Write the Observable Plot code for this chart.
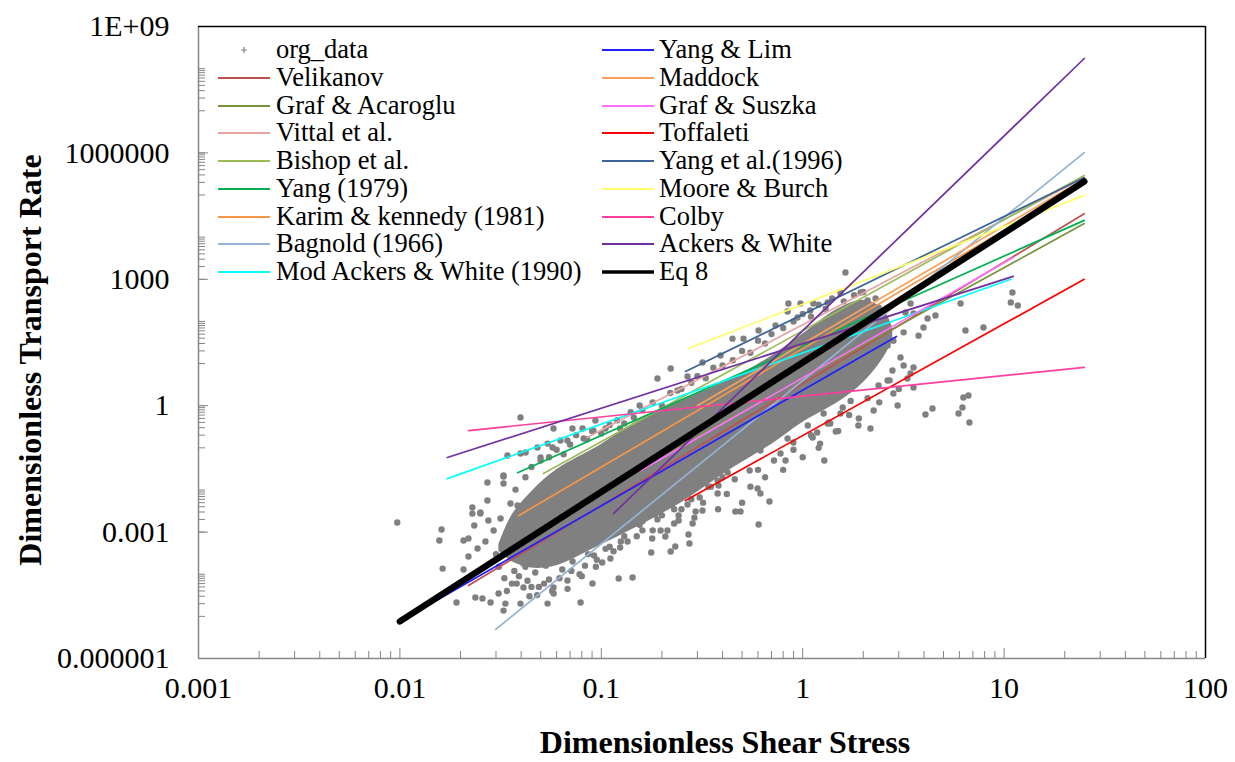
<!DOCTYPE html>
<html><head><meta charset="utf-8">
<script src="https://cdn.jsdelivr.net/npm/d3@7"></script>
<script src="https://cdn.jsdelivr.net/npm/@observablehq/plot@0.6"></script>
<style>
body{margin:0;background:#fff;}
#wrap{position:relative;width:1235px;height:762px;font-family:"Liberation Serif","Times New Roman","DejaVu Serif",serif;overflow:hidden}
.lg{position:absolute;font-size:26.5px;line-height:28px;white-space:nowrap;color:#000;font-family:"Liberation Serif","Times New Roman","DejaVu Serif",serif}
.ttl{position:absolute;font-weight:bold;font-size:32px;white-space:nowrap;color:#000;font-family:"Liberation Serif","Times New Roman","DejaVu Serif",serif}
</style></head><body><div id="wrap"></div>
<script>
// ---- axis ticks & labels ----
const xMajor = [0.001, 0.01, 0.1, 1, 10, 100];
const xLabels = ["0.001", "0.01", "0.1", "1", "10", "100"];
const yMajor = [1e-6, 1e-3, 1, 1e3, 1e6, 1e9];
const yLabels = ["0.000001", "0.001", "1", "1000", "1000000", "1E+09"];
const yMinorDecades = [-5, -3, -1, 1, 3, 5, 7];

// ---- observed data (org_data) ----
const orgX = [0.0097,0.0161,0.0157,0.0163,0.0191,0.0207,0.0219,0.0229,0.0251,0.0272,0.0272,0.0234,0.0219,0.0207,0.0243,0.0266,0.0275,0.0292,0.0327,0.0327,0.0375,0.0384,0.0316,0.0237,0.0257,0.0282,0.0309,0.0334,0.0327,0.0397,0.0411,0.0541,0.0579,0.0679,0.0789,0.0904,0.101,0.122,0.143,0.177,0.124,0.111,0.179,
0.0397,0.0579,0.0719,0.0807,0.0935,0.155,0.190,0.221,0.0342,0.0327,0.0229,0.0251,0.0354,0.0397,0.0421,0.0482,0.0541,0.0499,0.0573,0.0627,0.0679,0.0817,0.0914,0.105,0.124,0.145,0.190,0.239,
1.63,0.849,0.975,1.13,0.268,0.318,0.391,0.448,0.508,0.604,0.733,0.841,0.942,1.09,1.33,1.54,1.94,2.10,2.38,2.58,2.82,
1.89,2.17,2.38,2.64,2.82,3.31,2.96,3.55,2.25,1.73,1.54,1.33,1.22,0.899,0.776,0.617,4.07,4.41,5.94,6.21,6.73,0.822,1.28,0.545,0.597,0.617,0.684,0.463,0.491,0.604,0.284,0.271,0.274,0.233,0.221,0.213,0.268,0.294,0.318,0.378,0.382,0.308,0.242,0.242,0.197,0.208,1.46,1.12,1.18,0.841,1.58,1.37,1.27,1.06,0.804,0.692,0.617,0.532,0.424,0.378,0.348,0.301,0.247,0.213,0.208,
6.08,11.0,10.8,11.7,6.43,7.90,4.56,4.17,3.55,3.98,3.76,3.17,3.06,3.17,2.79,3.43,3.55,6.28,6.65,2.64,3.24,3.43,
0.045,0.052,0.062,0.071,0.083,0.095,0.115,0.135,0.16,0.19,0.23,0.28,0.34,0.40,0.048,0.058,0.068,0.08,0.092,0.11,0.13,0.155,0.185,0.22,0.26,0.31,0.36,0.042,0.05,0.039,0.036,0.044,
0.030,0.031,0.033,0.034,0.036,0.037,0.038,0.040,0.041,0.043,0.044,0.046,0.047,0.049,0.051,0.053,0.055,0.057,0.059,0.061,0.064,0.066,0.069,0.072,0.075,0.078,0.082,0.086,0.09,0.094,0.098,0.105,0.11,0.118,0.125,0.133,0.14,0.15,0.16,0.17,0.18,0.2,0.21,0.23,0.25,0.27,0.29,0.32,0.35,0.38,0.42,0.46,0.5,0.55,0.6,0.65,0.72,0.8,0.9,1.0,1.1,1.2,1.35,1.5,1.7,1.9,2.1,2.4,2.7,3.0,
0.042,0.045,0.05,0.055,0.06,0.065,0.07,0.075,0.085,0.09,0.1,0.11,0.12,0.13,0.14,0.16,0.18,0.2,0.22,0.25,0.28,0.3,0.33,0.36,0.4,0.45,0.5,0.55,0.6,0.65,0.7,0.8,0.9,1.0,1.1,1.2,1.3,1.4,1.6,1.8,2.0,2.3];
const orgY = [0.00169,0.00115,0.000631,0.000136,2.13e-5,0.000631,0.000703,0.00275,0.00275,0.0150,0.00561,0.00143,0.000263,0.000129,0.000407,0.000597,0.00188,0.00109,0.0142,0.0208,0.0102,0.00427,0.00210,2.8e-5,2.65e-5,2.13e-5,3.48e-5,2.01e-5,1.37e-5,2.01e-5,4.83e-5,2.01e-5,4.83e-5,7.08e-5,2.13e-5,6.01e-5,0.00019,7.91e-5,8.34e-5,0.000327,0.00043,0.000236,0.000703,
0.524,0.287,0.287,0.287,0.445,1.01,4.42,7.62,0.0656,0.022,0.00383,0.00291,0.00476,0.0733,0.0773,0.102,0.126,0.0589,0.102,0.149,0.149,0.166,0.258,0.287,0.287,0.524,0.585,2.29,
1450,266,266,266,4.92,10.6,15.5,39,39,61,80,172,124,182,281,485,485,313,214,89,35,
0.338,0.287,3.01,3.95,1.95,4.42,1.01,8.05,0.767,1.3,0.652,0.378,0.126,0.134,0.0733,0.0863,0.617,0.857,0.652,0.906,0.398,0.05,0.05,0.0289,0.0108,0.00822,0.00531,0.00308,0.00308,0.00151,0.0016,0.000875,0.000535,0.000454,0.000346,0.00109,0.00451,0.00308,0.00325,0.00822,0.0127,0.00661,0.00247,0.00188,0.00109,0.000785,0.244,0.176,0.231,0.166,0.906,0.378,0.652,0.338,0.287,0.445,0.134,0.126,0.0259,0.0167,0.038,0.034,0.0197,0.00561,0.0167,
266,485,281,239,61,72,138,117,154,72,46,55,13.9,9.0,6.84,5.81,2.70,1.56,1.74,27,163,266,
5e-5,6e-5,8e-5,1.2e-4,1.6e-4,2.2e-4,3.5e-4,6e-4,1.1e-3,2e-3,3.5e-3,6e-3,0.012,0.02,3.2e-5,3.5e-5,4.5e-5,9e-5,2.8e-4,4.5e-4,8e-4,1.5e-3,2.6e-3,4.5e-3,8e-3,0.016,0.03,1.5e-4,2.8e-4,9e-5,6e-5,3.8e-4,
3e-4,1.5e-4,8e-5,4e-5,2.5e-4,1.2e-4,6e-5,3.5e-4,1.8e-4,7e-5,3e-5,2.2e-4,1.1e-4,5e-5,3.2e-4,1.6e-4,7.5e-5,4e-5,2.6e-4,5.5e-4,1.3e-4,3.5e-4,8e-4,2e-4,5e-4,1e-4,1.1e-3,3e-4,6.5e-4,1.5e-4,1.4e-3,4e-4,9e-4,2.2e-3,6e-4,1.3e-3,3e-3,8e-4,1.8e-3,4e-3,1.1e-3,2.5e-3,6e-3,1.6e-3,3.5e-3,8.5e-3,2.2e-3,5e-3,0.012,3.5e-3,8e-3,0.018,5e-3,0.012,0.03,0.02,0.05,0.03,0.09,0.06,0.2,0.1,0.4,0.25,0.6,0.5,1.5,1.2,4,2.5,
0.02,0.035,0.05,0.06,0.09,0.07,0.12,0.2,0.16,0.25,0.22,0.35,0.45,0.38,0.7,0.8,1.2,1.0,2.0,2.5,3.5,5,4.5,8,9,12,20,18,35,30,50,70,100,150,130,250,200,350,300,420,500,350];

// dense core of the cloud (solid grey band)
const coreX  = [0.031, 0.036, 0.045, 0.06, 0.1, 0.15, 0.25, 0.45, 0.7, 1, 1.5, 2, 2.5, 2.8];
const coreHi = [5e-4, 2.5e-3, 0.009, 0.03, 0.12, 0.42, 1.3, 4.5, 15, 50, 200, 320, 200, 70];
const coreLo = [3.5e-4, 2e-4, 1.4e-4, 1.6e-4, 5e-4, 1.3e-3, 5e-3, 0.033, 0.12, 0.4, 1.2, 3.5, 13, 35];

// ---- equations (each a power-law line: [tau, phi] end points) ----
const velikanov    = [[0.0219, 5.4e-5], [25, 3.6e4]];
const grafAcaroglu = [[0.1, 0.0104], [25, 2.1e4]];
const vittal       = [[0.085, 0.176], [25, 2.6e5]];
const bishop       = [[0.0516, 0.0245], [25, 2.9e5]];
const yang1979     = [[0.0384, 0.0257], [25, 2.5e4]];
const karim        = [[0.0388, 2.45e-3], [25, 1.9e5]];
const bagnold      = [[0.0299, 4.9e-6], [25, 1.02e6]];
const modAckers    = [[0.0172, 0.0186], [10.8, 1000]];
const yangLim      = [[0.01, 7.6e-6], [2.92, 44]];
const maddock      = [[0.3, 1.0], [25, 2.4e5]];
const grafSuszka   = [[0.157, 0.029], [11.1, 3300]];
const toffaleti    = [[0.262, 5.6e-3], [25, 1000]];
const yang1996     = [[0.262, 6.5], [25, 2.6e5]];
const mooreBurch   = [[0.271, 22.7], [25, 9.8e4]];
const colby        = [[0.0219, 0.257], [25, 8.1]];
const ackersWhiteA = [[0.0172, 0.059], [11.1, 1175]];
const ackersWhiteB = [[0.115, 2.75e-3], [25, 1.74e8]];
const eq8          = [[0.01, 7.6e-6], [25, 2.1e5]];

const seriesNames  = ["Velikanov","Graf & Acaroglu","Vittal et al.","Bishop et al.","Yang (1979)","Karim & kennedy (1981)","Bagnold (1966)","Mod Ackers & White (1990)","Yang & Lim","Maddock","Graf & Suszka","Toffaleti","Yang et al.(1996)","Moore & Burch","Colby","Ackers & White","Eq 8"];
const seriesColors = ["#C0504D","#77933C","#E6A6A6","#9BBB59","#00B050","#F79646","#95B3D7","#00FFFF","#2020FF","#FAA05A","#FF70FF","#FF0000","#3D6496","#FFFF66","#FF3F9F","#7030A0","#000000"];
const seriesData   = [[velikanov],[grafAcaroglu],[vittal],[bishop],[yang1979],[karim],[bagnold],[modAckers],[yangLim],[maddock],[grafSuszka],[toffaleti],[yang1996],[mooreBurch],[colby],[ackersWhiteA, ackersWhiteB],[eq8]];

// ---- build tables ----
const orgRows = orgX.map((x, i) => ({x, y: orgY[i]}));
const coreRows = coreX.map((x, i) => ({x, lo: coreLo[i], hi: coreHi[i]}));
const lineRows = [];
seriesData.forEach((segs, si) => segs.forEach((seg, gi) => seg.forEach(([x, y]) => lineRows.push({x, y, name: seriesNames[si], key: si + "_" + gi, color: seriesColors[si]}))));
const thinRows = lineRows.filter(d => d.name !== "Eq 8");
const eqRows = lineRows.filter(d => d.name === "Eq 8");

const xMinor = [];
for (let k = -3; k <= 1; k++) for (let m = 2; m <= 9; m++) xMinor.push(m * Math.pow(10, k));
const yMinor = [];
for (const k of yMinorDecades) for (let m = 1; m <= 10; m++) yMinor.push(m * Math.pow(10, k));

const serif = "'Liberation Serif', 'Times New Roman', 'DejaVu Serif', serif";
const axisGrey = "#868686";
const chart = Plot.plot({
  width: 1235, height: 762,
  marginLeft: 198, marginRight: 30, marginTop: 26, marginBottom: 104,
  x: {type: "log", domain: [0.001, 100]},
  y: {type: "log", domain: [1e-6, 1e9]},
  style: {fontFamily: serif, background: "#fff", color: "#000"},
  marks: [
    Plot.areaY(coreRows, {x: "x", y1: "lo", y2: "hi", fill: "#808080", curve: "catmull-rom"}),
    Plot.dot(orgRows, {x: "x", y: "y", r: 3.2, fill: "#808080", stroke: "none"}),
    Plot.line(thinRows, {x: "x", y: "y", z: "key", stroke: "color", strokeWidth: 1.7}),
    Plot.line(eqRows, {x: "x", y: "y", z: "key", stroke: "#000", strokeWidth: 6.5, strokeLinecap: "round"}),
    Plot.axisX(xMinor, {anchor: "bottom", tickSize: -7, stroke: axisGrey, tickFormat: () => "", label: null}),
    Plot.axisX(xMajor, {anchor: "bottom", tickSize: -10, stroke: axisGrey, tickFormat: () => "", label: null}),
    Plot.axisX(xMajor, {anchor: "bottom", tickSize: 0, tickPadding: 18, fontSize: 30, fontFamily: serif, tickFormat: d => xLabels[xMajor.indexOf(d)], label: null}),
    Plot.axisY(yMinor, {anchor: "left", tickSize: -7, stroke: axisGrey, tickFormat: () => "", label: null}),
    Plot.axisY(yMajor, {anchor: "left", tickSize: -10, stroke: axisGrey, tickFormat: () => "", label: null}),
    Plot.axisY(yMajor, {anchor: "left", tickSize: 0, tickPadding: 29, fontSize: 30, fontFamily: serif, tickFormat: d => yLabels[yMajor.indexOf(d)], label: null}),
    Plot.ruleX([0.001], {stroke: axisGrey, strokeWidth: 1.5}),
    Plot.ruleY([1e-6], {stroke: axisGrey, strokeWidth: 1.5}),
    Plot.ruleX([100], {stroke: "#000", strokeWidth: 1.5}),
    Plot.ruleY([1e9], {stroke: "#000", strokeWidth: 1.5})
  ]
});
const wrap = document.getElementById("wrap");
wrap.appendChild(chart);

// ---- legend ----
const legendNames = ["org_data", ...seriesNames];
const legendColors = ["#808080", ...seriesColors];
const colLen = 9;
legendNames.forEach((name, i) => {
  const col = Math.floor(i / colLen), row = i % colLen;
  const lineX = col === 0 ? 218 : 602, textX = col === 0 ? 276 : 659;
  const cy = 50 + row * 27.75;
  const sym = document.createElementNS("http://www.w3.org/2000/svg", "svg");
  sym.setAttribute("width", 56); sym.setAttribute("height", 12);
  sym.style.position = "absolute"; sym.style.left = lineX + "px"; sym.style.top = (cy - 6) + "px";
  if (name === "org_data") {
    sym.innerHTML = `<path d="M23,6h6M26,3v6" stroke="${legendColors[i]}" stroke-width="1.2"/>`;
  } else {
    const w = name === "Eq 8" ? 3.5 : 2;
    sym.innerHTML = `<line x1="0" x2="52" y1="6" y2="6" stroke="${legendColors[i]}" stroke-width="${w}"/>`;
  }
  wrap.appendChild(sym);
  const t = document.createElement("div");
  t.className = "lg"; t.textContent = name;
  t.style.left = textX + "px"; t.style.top = (cy - 15) + "px";
  wrap.appendChild(t);
});

// ---- axis titles ----
const xt = document.createElement("div");
xt.className = "ttl"; xt.textContent = "Dimensionless Shear Stress";
xt.style.left = "725px"; xt.style.top = "742px"; xt.style.transform = "translate(-50%,-50%)";
wrap.appendChild(xt);
const yt = document.createElement("div");
yt.className = "ttl"; yt.textContent = "Dimensionless Transport Rate";
yt.style.left = "30px"; yt.style.top = "360px"; yt.style.transform = "translate(-50%,-50%) rotate(-90deg)";
wrap.appendChild(yt);
</script>
</body></html>
